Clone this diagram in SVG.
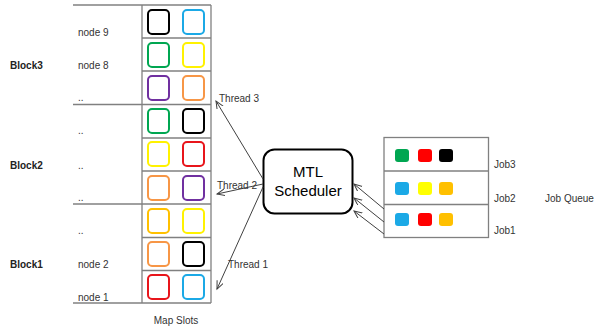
<svg xmlns="http://www.w3.org/2000/svg" width="595" height="331" viewBox="0 0 595 331">
<defs>
<marker id="arr" markerUnits="userSpaceOnUse" markerWidth="10" markerHeight="10" refX="8" refY="3.5" orient="auto">
<path d="M0,0 L8,3.5 L0,7" fill="none" stroke="#404040" stroke-width="1"/>
</marker>
</defs>
<style>
text{font-family:"Liberation Sans",Arial,sans-serif;fill:#333}
.lbl{font-size:10px}
.blk{font-size:10px;font-weight:bold;fill:#222}
.grid{stroke:#808080;stroke-width:1.3;fill:none}
.slot{fill:none;stroke-width:2}
.job{stroke:none}
.conn{stroke:#404040;stroke-width:1;fill:none;marker-end:url(#arr)}
</style>
<rect width="595" height="331" fill="#fff"/>

<g id="map-slots">
<g class="grid">
<line x1="73" y1="5" x2="211" y2="5"/>
<line x1="73" y1="104.5" x2="211" y2="104.5"/>
<line x1="73" y1="204" x2="211" y2="204"/>
<line x1="73" y1="303" x2="211" y2="303"/>
<line x1="142" y1="38" x2="211" y2="38"/>
<line x1="142" y1="71" x2="211" y2="71"/>
<line x1="142" y1="138" x2="211" y2="138"/>
<line x1="142" y1="171" x2="211" y2="171"/>
<line x1="142" y1="237.5" x2="211" y2="237.5"/>
<line x1="142" y1="270.5" x2="211" y2="270.5"/>
<line x1="142" y1="5" x2="142" y2="303"/>
<line x1="211" y1="5" x2="211" y2="303"/>
</g>
<g id="row9">
<rect class="slot" x="148" y="10" width="21" height="24" rx="4" stroke="#000"/>
<rect class="slot" x="183" y="10" width="21" height="24" rx="4" stroke="#1BA9E6"/>
</g>
<g id="row8">
<rect class="slot" x="148" y="43" width="21" height="24" rx="4" stroke="#00A651"/>
<rect class="slot" x="183" y="43" width="21" height="24" rx="4" stroke="#FFF200"/>
</g>
<g id="row7">
<rect class="slot" x="148" y="76" width="21" height="24" rx="4" stroke="#7030A0"/>
<rect class="slot" x="183" y="76" width="21" height="24" rx="4" stroke="#F79646"/>
</g>
<g id="row6">
<rect class="slot" x="148" y="109" width="21" height="24" rx="4" stroke="#00A651"/>
<rect class="slot" x="183" y="109" width="21" height="24" rx="4" stroke="#000"/>
</g>
<g id="row5">
<rect class="slot" x="148" y="142" width="21" height="24" rx="4" stroke="#FFF200"/>
<rect class="slot" x="183" y="142" width="21" height="24" rx="4" stroke="#E8151B"/>
</g>
<g id="row4">
<rect class="slot" x="148" y="176" width="21" height="24" rx="4" stroke="#F79646"/>
<rect class="slot" x="183" y="176" width="21" height="24" rx="4" stroke="#7030A0"/>
</g>
<g id="row3">
<rect class="slot" x="148" y="209" width="21" height="24" rx="4" stroke="#FFC000"/>
<rect class="slot" x="183" y="209" width="21" height="24" rx="4" stroke="#FFF200"/>
</g>
<g id="row2">
<rect class="slot" x="148" y="242" width="21" height="24" rx="4" stroke="#F79646"/>
<rect class="slot" x="183" y="242" width="21" height="24" rx="4" stroke="#000"/>
</g>
<g id="row1">
<rect class="slot" x="148" y="275" width="21" height="24" rx="4" stroke="#E8151B"/>
<rect class="slot" x="183" y="275" width="21" height="24" rx="4" stroke="#1BA9E6"/>
</g>
<text class="lbl" x="78" y="35.5">node 9</text>
<text class="lbl" x="78" y="68.5">node 8</text>
<text class="lbl" x="78" y="101">..</text>
<text class="lbl" x="78" y="134">..</text>
<text class="lbl" x="78" y="168.5">..</text>
<text class="lbl" x="78" y="200.5">..</text>
<text class="lbl" x="78" y="234">..</text>
<text class="lbl" x="78" y="267.5">node 2</text>
<text class="lbl" x="78" y="300.5">node 1</text>
<text class="blk" x="10" y="68.5">Block3</text>
<text class="blk" x="10" y="168.5">Block2</text>
<text class="blk" x="10" y="267.5">Block1</text>
<text class="lbl" x="176" y="323.5" text-anchor="middle">Map Slots</text>
</g>

<g id="scheduler">
<rect x="263.5" y="149.5" width="89" height="64" rx="11" fill="#fff" stroke="#000" stroke-width="2"/>
<text x="308" y="177" text-anchor="middle" style="font-size:15px;fill:#000">MTL</text>
<text x="308" y="196" text-anchor="middle" style="font-size:15px;fill:#000">Scheduler</text>
</g>

<g id="job-queue">
<g class="grid">
<rect x="384" y="137.5" width="104.5" height="100"/>
<line x1="384" y1="171" x2="488.5" y2="171"/>
<line x1="384" y1="204.5" x2="488.5" y2="204.5"/>
</g>
<g id="job3">
<rect class="job" x="395" y="149" width="14" height="13" rx="3" fill="#00A651"/>
<rect class="job" x="418" y="149" width="14" height="13" rx="3" fill="#FF0000"/>
<rect class="job" x="439" y="149" width="14" height="13" rx="3" fill="#000"/>
<text class="lbl" x="494" y="167.5">Job3</text>
</g>
<g id="job2">
<rect class="job" x="395" y="182" width="14" height="13" rx="3" fill="#1BA9E6"/>
<rect class="job" x="418" y="182" width="14" height="13" rx="3" fill="#FFFF00"/>
<rect class="job" x="439" y="182" width="14" height="13" rx="3" fill="#FFC000"/>
<text class="lbl" x="494" y="201.5">Job2</text>
</g>
<g id="job1">
<rect class="job" x="395" y="213" width="14" height="13" rx="3" fill="#1BA9E6"/>
<rect class="job" x="418" y="213" width="14" height="13" rx="3" fill="#FF0000"/>
<rect class="job" x="439" y="213" width="14" height="13" rx="3" fill="#FFC000"/>
<text class="lbl" x="494" y="234">Job1</text>
</g>
<text class="lbl" x="545" y="201.5">Job Queue</text>
</g>

<g id="connectors">
<line class="conn" x1="263" y1="179" x2="216" y2="101"/>
<line class="conn" x1="263" y1="184" x2="217" y2="194"/>
<line class="conn" x1="263" y1="187" x2="217" y2="289"/>
<line class="conn" x1="384" y1="209" x2="354" y2="184"/>
<line class="conn" x1="384" y1="222" x2="354" y2="198"/>
<line class="conn" x1="384" y1="234" x2="354" y2="211"/>
<text class="lbl" x="219" y="101.5">Thread 3</text>
<text class="lbl" x="217" y="188.5">Thread 2</text>
<text class="lbl" x="228" y="267.5">Thread 1</text>
</g>
</svg>
